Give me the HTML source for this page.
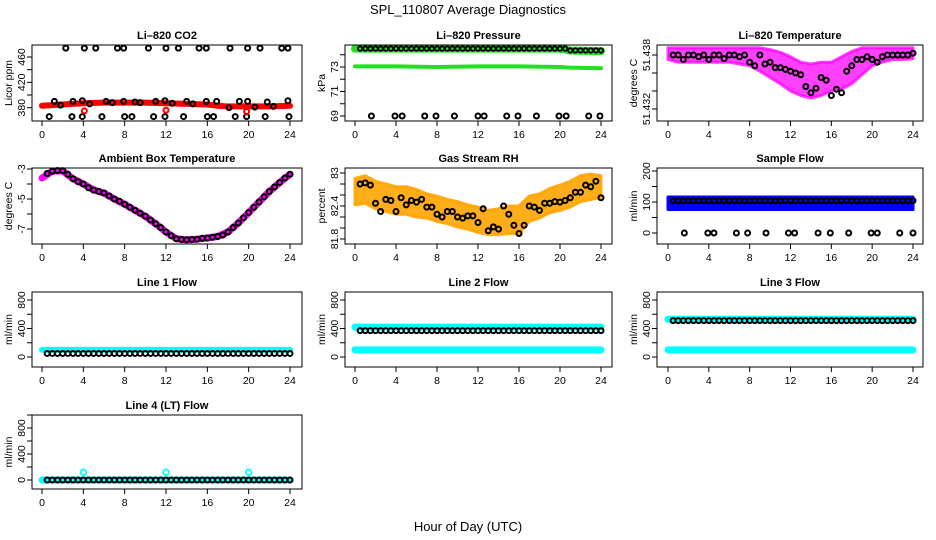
<!DOCTYPE html>
<html><head><meta charset="utf-8"><style>
body{margin:0;background:#fff}
svg{display:block;font-family:"Liberation Sans",sans-serif}
</style></head><body>
<svg id="chart" width="936" height="540" viewBox="0 0 936 540" xmlns="http://www.w3.org/2000/svg">
<text x="468" y="14" text-anchor="middle" font-size="13">SPL_110807  Average Diagnostics</text>
<text x="468" y="531" text-anchor="middle" font-size="13">Hour of Day (UTC)</text>
</svg>
<script>
// ---------- data ----------
const hourTicks = [0,4,8,12,16,20,24];
// CO2
const co2BandHours = [0,2,4,6,8,10,12,14,16,17,18,20,22,24];
const co2BandVals = [383,385,387,388,388,388,387,386,385,383,382,382,382,383];
const co2TopHours = [2.3,4.1,5.2,7.3,7.9,10.3,12.0,13.2,15.2,15.9,18.2,19.9,21.1,23.2,23.8];
const co2TopVals = [474,474,474,474,474,474,474,474,474,474,474,474,474,474,474];
const co2LowHours = [0.7,2.9,3.9,5.8,8.0,8.7,10.8,11.9,13.7,16.0,16.6,18.7,19.8,21.6,23.9];
const co2LowVals = [366,366,366,366,366,366,366,366,366,366,366,366,366,366,366];
const co2MidHours = [1.2,1.8,3.0,3.9,4.6,6.2,6.8,7.9,9.0,9.5,11.0,11.9,12.6,14.0,14.6,15.9,16.9,18.1,19.1,19.9,20.6,21.8,22.4,23.8];
const co2MidVals = [390,384,390,391,386,390,388,390,389,388,390,391,387,390,386,390,390,380,390,390,381,389,382,391];
const co2RedHours = [4.1,12.0,19.8];
const co2RedVals = [375,376,374];
// Pressure
const pressHours = [0,4,8,12,16,20,21,24];
const pressUpper = [74.5,74.5,74.5,74.5,74.5,74.5,74.35,74.3];
const pressLower = [73.05,73.05,73.0,73.05,73.05,73.0,72.95,72.9];
const pressLowHours = [1.6,3.9,4.6,6.8,7.9,9.7,12.0,12.6,14.8,15.9,17.7,19.9,20.6,22.8,23.9];
const pressLowVals = [69,69,69,69,69,69,69,69,69,69,69,69,69,69,69];
// Li-820 temperature
const tempUpper = [51.4388,51.4388,51.4388,51.4388,51.4388,51.4388,51.4388,51.4388,51.4388,51.4388,51.4386,51.4383,51.4378,51.4372,51.437,51.4372,51.4372,51.4378,51.4384,51.4388,51.4388,51.4388,51.4388,51.4388,51.4388];
const tempLower = [51.4375,51.4372,51.4372,51.4372,51.4372,51.4372,51.4372,51.437,51.4368,51.4362,51.4355,51.4348,51.434,51.4335,51.4332,51.4335,51.434,51.4342,51.4348,51.4358,51.4368,51.4372,51.4375,51.4375,51.4376];
const tempBlack = [51.438,51.438,51.4375,51.438,51.438,51.4378,51.438,51.4375,51.438,51.438,51.4376,51.438,51.438,51.4378,51.438,51.4372,51.4368,51.438,51.437,51.4372,51.4366,51.4366,51.4364,51.4362,51.436,51.4358,51.4345,51.4338,51.4343,51.4355,51.4352,51.4335,51.4342,51.4338,51.4362,51.4368,51.4375,51.4375,51.4378,51.4375,51.4372,51.4378,51.438,51.438,51.438,51.438,51.438,51.4382];
// Ambient box temperature
const ambMagenta = [-3.6,-3.15,-3.12,-3.65,-4.0,-4.4,-4.6,-5.0,-5.35,-5.75,-6.15,-6.65,-7.2,-7.65,-7.72,-7.68,-7.6,-7.5,-7.2,-6.6,-5.9,-5.2,-4.5,-3.9,-3.35];
const ambBlack = [-3.3,-3.15,-3.1,-3.12,-3.35,-3.65,-3.85,-4.0,-4.25,-4.4,-4.5,-4.6,-4.8,-5.0,-5.15,-5.35,-5.55,-5.75,-5.95,-6.15,-6.4,-6.65,-6.9,-7.2,-7.45,-7.65,-7.7,-7.72,-7.7,-7.68,-7.62,-7.6,-7.55,-7.5,-7.4,-7.2,-6.9,-6.6,-6.25,-5.9,-5.55,-5.2,-4.85,-4.5,-4.2,-3.9,-3.6,-3.35];
// Gas stream RH
const rhUpper = [82.9,82.95,82.85,82.8,82.75,82.75,82.7,82.62,82.58,82.52,82.48,82.42,82.38,82.32,82.35,82.4,82.4,82.58,82.62,82.72,82.78,82.85,82.95,82.98,82.95];
const rhLower = [82.42,82.45,82.35,82.3,82.25,82.25,82.2,82.18,82.12,82.08,82.02,81.98,81.92,81.88,81.88,81.9,81.9,82.12,82.18,82.28,82.32,82.38,82.48,82.52,82.55];
const rhBlack = [82.8,82.82,82.78,82.45,82.3,82.52,82.5,82.3,82.55,82.42,82.5,82.47,82.52,82.38,82.38,82.25,82.2,82.3,82.3,82.2,82.18,82.22,82.22,82.1,82.35,81.95,82.02,81.98,82.4,82.25,82.05,81.9,82.05,82.4,82.38,82.32,82.45,82.45,82.48,82.47,82.5,82.55,82.65,82.65,82.78,82.75,82.85,82.55];
// Sample flow
const sampleBandTop = [116,116];
const sampleBandBottom = [76,76];
const sampleBlack = 104;
const sampleZeroHours = [1.6,3.9,4.5,6.7,7.8,9.6,11.8,12.4,14.7,15.9,17.7,19.9,20.5,22.7,24.0];
const sampleZeroVals = [0,0,0,0,0,0,0,0,0,0,0,0,0,0,0];
// Line flows
const line1Cyan = [100];
const line1Black = [50];
const line2Cyan = [420,100];
const line2Black = [370];
const line3Cyan = [530,100];
const line3Black = [510];
const line4Cyan = [0];
const line4Black = [0];
const line4SpikeHours = [4,12,20];
const line4SpikeVals = [120,120,120];

// ---------- layout ----------
const svg = document.getElementById('chart');
const NS = 'http://www.w3.org/2000/svg';
const XR = [[42,290],[355,601],[668,913]];
const BOX = [[32,302],[345,612],[657,923]];
const ROWS = [[45,121],[168,244],[292,367],[415,489]];
function el(tag, attrs, parent){const e=document.createElementNS(NS,tag);for(const k in attrs)e.setAttribute(k,attrs[k]);(parent||svg).appendChild(e);return e;}
function lin(v1,p1,v2,p2){return v=>p1+(v-v1)*(p2-p1)/(v2-v1);}
const halfHours=[];for(let i=1;i<=48;i++)halfHours.push(i/2);
const allHours=[];for(let i=0;i<=24;i++)allHours.push(i);

function panel(name,col,row,title,ylab,y,ticks,labels){
  const g=el('g',{});
  
  
  const [L,R]=BOX[col],[T,B]=ROWS[row];
  const xs=h=>XR[col][0]+(XR[col][1]-XR[col][0])*h/24;
  const t=el('text',{x:(L+R)/2,y:T-6,'text-anchor':'middle','font-size':'11','font-weight':'bold'},g);
  t.textContent=title;
  
  
  const plot=el('g',{},g);
  
  
  const xa=el('g',{stroke:'#000','stroke-width':1},g);
  
  
  hourTicks.forEach(h=>{
    el('line',{x1:xs(h),x2:xs(h),y1:B,y2:B+5},xa);
    const tx=el('text',{x:xs(h),y:B+17,'text-anchor':'middle','font-size':'10.5',stroke:'none'},xa);
    tx.textContent=h;
  });
  const ya=el('g',{stroke:'#000','stroke-width':1},g);
  
  
  ticks.forEach(v=>{const p=y(v);if(p<T-2||p>B+2)return;el('line',{x1:L-5,x2:L,y1:p,y2:p},ya);});
  labels.forEach(v=>{const p=y(v);
    const tx=el('text',{x:L-7,y:p,'text-anchor':'middle','font-size':'10.5',stroke:'none',transform:`rotate(-90 ${L-7} ${p})`},ya);
    tx.textContent=v;});
  const yl=el('text',{x:L-20,y:(T+B)/2,'text-anchor':'middle','font-size':'10.5',transform:`rotate(-90 ${L-20} ${(T+B)/2})`},g);
  yl.textContent=ylab;
  
  
  const frame=el('rect',{x:L,y:T,width:R-L,height:B-T,fill:'none',stroke:'#000','stroke-width':1},g);
  
  
  return {plot,xs,y};
}
function line(p,hours,vals,color,w,name){
  const pts=hours.map((h,i)=>p.xs(h)+','+p.y(vals[i])).join(' ');
  const e=el('polyline',{points:pts,fill:'none',stroke:color,'stroke-width':w,'stroke-linecap':'round','stroke-linejoin':'round'},p.plot);
  
  
}
function band(p,hours,up,lo,color,op,name){
  const pts=hours.map((h,i)=>p.xs(h)+','+p.y(up[i])).concat(hours.slice().reverse().map((h,i)=>p.xs(h)+','+p.y(lo[hours.length-1-i]))).join(' ');
  const e=el('polygon',{points:pts,fill:color,'fill-opacity':op,stroke:color,'stroke-width':3,'stroke-opacity':op,'stroke-linejoin':'round'},p.plot);
  
  
}
function pts(p,hours,vals,color,name,r,sw){
  hours.forEach((h,i)=>{
    const c=el('circle',{cx:p.xs(h),cy:p.y(vals[i]),r:r||2.5,fill:'none',stroke:color,'stroke-width':sw||2},p.plot);
    
    
  });
}
function constArr(n,v){return new Array(n).fill(v);}

let p=panel('co2',0,0,'Li\u2013820 CO2','Licor ppm',lin(380,107.7,460,57),[380,400,420,440,460],[380,420,460]);
line(p,co2BandHours,co2BandVals,'#ff0000',6,'co2-red-series');
pts(p,co2TopHours,co2TopVals,'#000','co2-point');
pts(p,co2LowHours,co2LowVals,'#000','co2-point');
pts(p,co2MidHours,co2MidVals,'#000','co2-point');
pts(p,co2RedHours,co2RedVals,'#ff0000','co2-red-point');

p=panel('pressure',1,0,'Li\u2013820 Pressure','kPa',lin(73,67,69,116),[69,70,71,72,73,74],[69,71,73]);
line(p,pressHours,pressUpper,'#22e022',8,'pressure-upper-green');
line(p,pressHours,pressLower,'#22e022',4,'pressure-lower-green');
pts(p,halfHours,halfHours.map(h=>pressUpper[0]-(h>20.5?0.15:0)),'#000','pressure-point',2.2,1.8);
pts(p,pressLowHours,pressLowVals,'#000','pressure-low-point');

p=panel('li820-temp',2,0,'Li\u2013820 Temperature','degrees C',lin(51.438,55,51.432,109),[51.432,51.434,51.436,51.438],[51.432,51.438]);
band(p,allHours,tempUpper,tempLower,'#ff00ff',0.75,'temp-magenta-cloud');
pts(p,halfHours,tempBlack,'#000','temp-point');

p=panel('ambient-temp',0,1,'Ambient Box Temperature','degrees C',lin(-3,169,-7,229),[-3,-4,-5,-6,-7],[-3,-5,-7]);
line(p,allHours,ambMagenta,'#ff00ff',7,'ambient-magenta-series');
pts(p,halfHours,ambBlack,'#000','ambient-point');

p=panel('gas-rh',1,1,'Gas Stream RH','percent',lin(83.0,173,81.8,239),[81.8,82.0,82.2,82.4,82.6,82.8,83.0],[81.8,82.4,83.0]);
band(p,allHours,rhUpper,rhLower,'#ffa500',0.9,'rh-orange-cloud');
pts(p,halfHours,rhBlack,'#000','rh-point');

p=panel('sample-flow',2,1,'Sample Flow','ml/min',lin(200,171,0,233),[0,50,100,150,200],[0,100,200]);
band(p,[0,24],sampleBandTop,sampleBandBottom,'#0000ff',1,'sample-blue-band');
pts(p,halfHours,constArr(48,sampleBlack),'#000','sample-point');
pts(p,sampleZeroHours,sampleZeroVals,'#000','sample-zero-point');

const flowTicks=[0,200,400,600,800,1000], flowLabels=[0,400,800];
function flow(name,col,row,title,yfn,cyan,black,w){
  const q=panel(name,col,row,title,'ml/min',yfn,flowTicks,flowLabels);
  cyan.forEach(v=>line(q,[0,24],[v,v],'#00ffff',w||7,name+'-cyan-series'));
  black.forEach(v=>pts(q,halfHours,constArr(48,v),'#000',name+'-point'));
  return q;
}
flow('line1-flow',0,2,'Line 1 Flow',lin(0,357,800,300),line1Cyan,line1Black,6);
flow('line2-flow',1,2,'Line 2 Flow',lin(0,357,800,300),line2Cyan,line2Black);
flow('line3-flow',2,2,'Line 3 Flow',lin(0,357,800,300),line3Cyan,line3Black);
p=flow('line4-flow',0,3,'Line 4 (LT) Flow',lin(0,480,800,428),line4Cyan,line4Black);
pts(p,line4SpikeHours,line4SpikeVals,'#00ffff','line4-cyan-spike',2.8,1.8);
</script>
</body></html>
